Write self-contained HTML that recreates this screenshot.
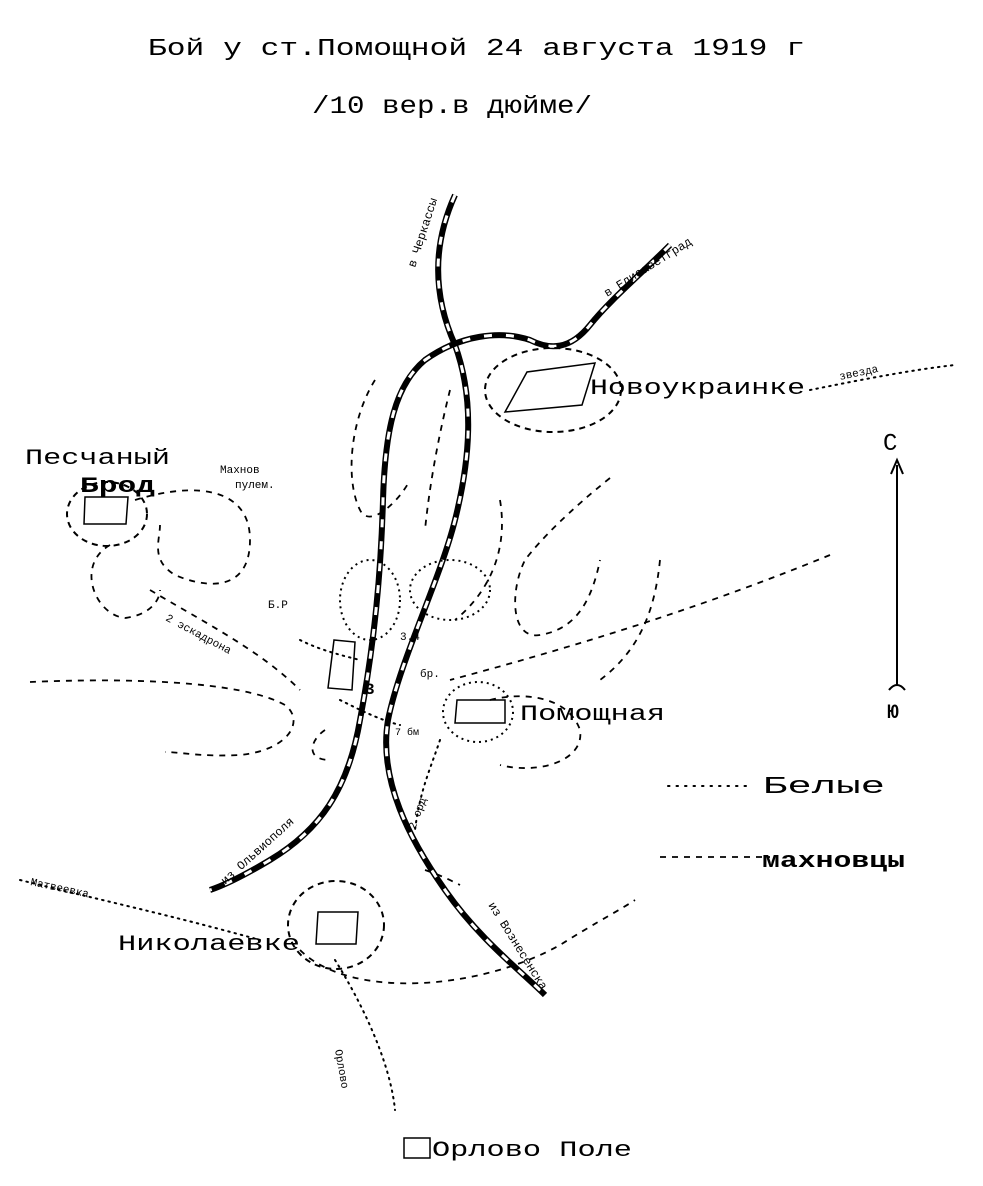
<!DOCTYPE html>
<html><head><meta charset="utf-8"><style>
html,body{margin:0;padding:0;background:#fff;}
svg{display:block}
text{font-family:"Liberation Mono","DejaVu Sans Mono",monospace;fill:#000;}
</style></head><body>
<svg width="983" height="1186" viewBox="0 0 983 1186" xmlns="http://www.w3.org/2000/svg">
<text x="148" y="55" font-size="24" textLength="657" lengthAdjust="spacingAndGlyphs">Бой у ст.Помощной 24 августа 1919 г</text>
<text x="312" y="113" font-size="25" textLength="280" lengthAdjust="spacingAndGlyphs">/10 вер.в дюйме/</text>

<g fill="none" stroke-linecap="butt">
<path d="M455,195 C430,250 435,300 455,345 C475,400 470,460 455,520 C440,580 400,660 388,720 C378,780 410,840 445,890 C480,940 520,970 545,995" stroke="#000" stroke-width="6"/>
<path d="M455,195 C430,250 435,300 455,345 C475,400 470,460 455,520 C440,580 400,660 388,720 C378,780 410,840 445,890 C480,940 520,970 545,995" stroke="#fff" stroke-width="3" stroke-dasharray="8 14"/>
<path d="M670,245 C640,275 610,300 590,325 C570,350 550,350 530,340 C500,330 460,335 425,360 C395,385 385,430 383,500 C381,570 375,640 360,720 C348,790 320,830 270,860 C245,875 225,885 210,890" stroke="#000" stroke-width="6"/>
<path d="M670,245 C640,275 610,300 590,325 C570,350 550,350 530,340 C500,330 460,335 425,360 C395,385 385,430 383,500 C381,570 375,640 360,720 C348,790 320,830 270,860 C245,875 225,885 210,890" stroke="#fff" stroke-width="3" stroke-dasharray="8 14"/>
</g>

<text font-size="12" transform="translate(415,268) rotate(-72)">в Черкассы</text>
<text font-size="12" transform="translate(607,297) rotate(-32)">в Елисаветград</text>
<text font-size="12" transform="translate(225,885) rotate(-42)">из Ольвиополя</text>
<text font-size="12" transform="translate(488,905) rotate(58)">из Вознесенска</text>
<text font-size="11" transform="translate(30,885) rotate(12)">Матвеевка</text>
<text font-size="11" transform="translate(840,380) rotate(-12)">звезда</text>
<text font-size="11" transform="translate(335,1050) rotate(80)">Орлово</text>
<text font-size="11" transform="translate(415,830) rotate(-70)">2 орд</text>

<g fill="none" stroke="#000" stroke-width="2" stroke-dasharray="6 5">
<ellipse cx="553" cy="390" rx="68" ry="42"/>
<ellipse cx="107" cy="514" rx="40" ry="32"/>
<ellipse cx="336" cy="925" rx="48" ry="44"/>
<ellipse cx="478" cy="712" rx="35" ry="30" stroke-dasharray="2 4"/>
<ellipse cx="450" cy="590" rx="40" ry="30" stroke-dasharray="2 4"/>
<ellipse cx="370" cy="600" rx="30" ry="40" stroke-dasharray="2 4"/>
</g>
<g fill="none" stroke="#000" stroke-width="1.5">
<path d="M505,412 L527,372 L595,363 L582,405 Z"/>
<path d="M85,497 L128,497 L126,524 L84,524 Z"/>
<path d="M318,912 L358,912 L356,944 L316,944 Z"/>
<path d="M457,700 L505,700 L505,723 L455,723 Z"/>
<path d="M334,640 L355,642 L352,690 L328,688 Z"/>
<path d="M404,1138 L430,1138 L430,1158 L404,1158 Z"/>
</g>
<text x="590" y="394" font-size="22" textLength="215" lengthAdjust="spacingAndGlyphs">Новоукраинке</text>
<text x="25" y="464" font-size="22" textLength="145" lengthAdjust="spacingAndGlyphs">Песчаный</text>
<text x="80" y="492" font-size="22" font-weight="bold" textLength="75" lengthAdjust="spacingAndGlyphs">Брод</text>
<text x="520" y="720" font-size="22" textLength="145" lengthAdjust="spacingAndGlyphs">Помощная</text>
<text x="118" y="950" font-size="22" textLength="182" lengthAdjust="spacingAndGlyphs">Николаевке</text>
<text x="432" y="1156" font-size="22" textLength="200" lengthAdjust="spacingAndGlyphs">Орлово Поле</text>
<text x="220" y="473" font-size="11">Махнов</text>
<text x="235" y="488" font-size="11">пулем.</text>
<text x="165" y="620" font-size="11" transform="rotate(28 165 620)">2 эскадрона</text>
<text x="268" y="608" font-size="11">Б.Р</text>
<text x="400" y="640" font-size="11">3.4</text>
<text x="420" y="677" font-size="11">бр.</text>
<text x="395" y="735" font-size="10">7 бм</text>
<text x="365" y="694" font-size="16" font-weight="bold">3</text>

<g fill="none" stroke="#000" stroke-width="1.8" stroke-dasharray="6 6">
<path d="M375,380 C350,420 345,480 360,510 C370,530 400,500 410,480"/>
<path d="M450,390 C440,430 430,480 425,530"/>
<path d="M135,500 C200,480 250,490 250,540 C250,590 210,590 175,575 C150,560 160,540 160,525"/>
<path d="M110,545 C75,565 95,615 125,618 C150,615 160,600 160,590"/>
<path d="M150,590 C200,620 260,650 300,690"/>
<path d="M30,682 C120,678 240,680 285,705 C305,720 290,750 240,755 C200,757 180,752 165,752"/>
<path d="M610,478 C570,510 540,540 525,560 C510,590 510,640 540,635 C570,630 590,610 600,560"/>
<path d="M660,560 C655,610 640,650 600,680"/>
<path d="M830,555 C720,600 600,640 450,680"/>
<path d="M490,700 C530,690 570,700 580,730 C585,760 540,775 500,765"/>
<path d="M500,500 C510,560 480,600 455,620"/>
<path d="M300,950 C350,1000 480,990 560,945 C600,920 620,910 635,900"/>
<path d="M425,870 C440,875 450,880 460,885"/>
<path d="M325,730 C310,740 305,760 330,760"/>
</g>
<g fill="none" stroke="#000" stroke-width="2" stroke-dasharray="1.5 5" stroke-linecap="round">
<path d="M810,390 C860,380 910,370 955,365"/>
<path d="M335,960 C360,1000 390,1060 395,1110"/>
<path d="M20,880 C100,900 170,915 260,940"/>
<path d="M440,740 C430,770 420,790 415,830"/>
<path d="M300,640 C320,650 340,655 360,660"/>
<path d="M340,700 C360,710 380,720 400,725"/>
</g>

<line x1="897" y1="465" x2="897" y2="685" stroke="#000" stroke-width="2"/>
<path d="M891,474 L897,460 L903,474" fill="none" stroke="#000" stroke-width="2"/>
<path d="M889,690 Q897,680 905,690" fill="none" stroke="#000" stroke-width="2"/>
<text x="883" y="450" font-size="24">С</text>
<text x="887" y="718" font-size="20" font-weight="bold">Ю</text>

<line x1="668" y1="786" x2="750" y2="786" stroke="#000" stroke-width="2" stroke-dasharray="1.5 7" stroke-linecap="round"/>
<text x="763" y="793" font-size="24" font-family="Liberation Sans,sans-serif" textLength="122" lengthAdjust="spacingAndGlyphs">Белые</text>
<line x1="660" y1="857" x2="770" y2="857" stroke="#000" stroke-width="1.8" stroke-dasharray="6 6"/>
<text x="762" y="867" font-size="22" font-family="Liberation Sans,sans-serif" font-weight="bold" textLength="143" lengthAdjust="spacingAndGlyphs">махновцы</text>
</svg>
</body></html>
